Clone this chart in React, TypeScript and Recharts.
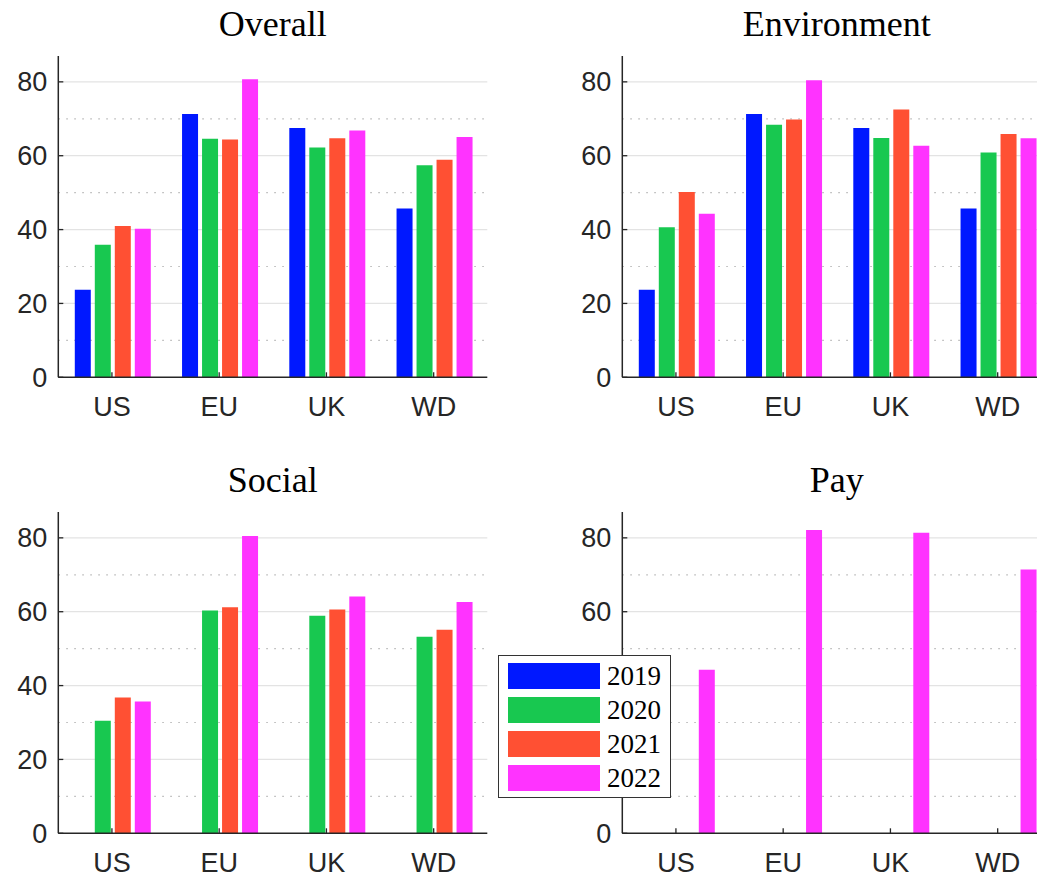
import React from "react";
import { BarChart, Bar, XAxis, YAxis, CartesianGrid } from "recharts";

const REGIONS = ["US", "EU", "UK", "WD"];
const YEARS = ["2019", "2020", "2021", "2022"];
const COLORS = ["#0018ff", "#18c850", "#ff5033", "#ff33ff"];

const Y_TICKS = [0, 20, 40, 60, 80];
const MAJOR_GRID = [20, 40, 60, 80];
const MINOR_GRID = [10, 30, 50, 70];

// values per year, in REGIONS order
const OVERALL_2019 = [23.7, 71.3, 67.5, 45.7];
const OVERALL_2020 = [35.9, 64.6, 62.2, 57.4];
const OVERALL_2021 = [41.0, 64.4, 64.7, 58.9];
const OVERALL_2022 = [40.2, 80.7, 66.8, 65.1];

const ENV_2019 = [23.7, 71.3, 67.5, 45.7];
const ENV_2020 = [40.6, 68.4, 64.8, 60.9];
const ENV_2021 = [50.2, 69.8, 72.5, 65.9];
const ENV_2022 = [44.3, 80.4, 62.7, 64.7];

const SOCIAL_2019 = [null, null, null, null];
const SOCIAL_2020 = [30.5, 60.3, 58.9, 53.2];
const SOCIAL_2021 = [36.8, 61.2, 60.6, 55.1];
const SOCIAL_2022 = [35.7, 80.5, 64.1, 62.6];

const PAY_2019 = [null, null, null, null];
const PAY_2020 = [null, null, null, null];
const PAY_2021 = [null, null, null, null];
const PAY_2022 = [44.3, 82.1, 81.4, 71.4];

type Series = (number | null)[];

const AXIS_COLOR = "#262626";
const SANS = '"Liberation Sans", Arial, Helvetica, sans-serif';
const SERIF = '"Liberation Serif", "Times New Roman", serif';

const CHART_W = 500;
const CHART_H = 440;
const PLOT_LEFT = 58.3;
const PLOT_RIGHT = 487.3;

function buildRows(series: Series[]) {
  return REGIONS.map((region, i) => {
    const row: Record<string, string | number | null> = { region };
    YEARS.forEach((y, k) => {
      row[y] = series[k][i];
    });
    return row;
  });
}

function Panel({ title, series, left, top }: { title: string; series: Series[]; left: number; top: number }) {
  const data = buildRows(series);
  const tickStyle = { fill: AXIS_COLOR, fontSize: 27, fontFamily: SANS };
  return (
    <div style={{ position: "absolute", left, top, width: CHART_W, height: CHART_H }}>
      <div
        style={{
          position: "absolute",
          left: PLOT_LEFT,
          width: PLOT_RIGHT - PLOT_LEFT,
          top: 5.8,
          textAlign: "center",
          fontFamily: SERIF,
          fontSize: 36,
          lineHeight: "36px",
          color: "#000",
        }}
      >
        {title}
      </div>
      <BarChart
        width={CHART_W}
        height={CHART_H}
        data={data}
        margin={{ top: 56, right: CHART_W - PLOT_RIGHT, bottom: 12.7, left: 0 }}
        barCategoryGap={16.5}
        barGap={4}
      >
        <CartesianGrid horizontalValues={MAJOR_GRID} vertical={false} stroke="#e3e3e3" strokeWidth={1.3} />
        <CartesianGrid horizontalValues={MINOR_GRID} vertical={false} stroke="#b5b5b5" strokeWidth={1.2} strokeDasharray="1.5 6.5" />
        <XAxis
          dataKey="region"
          height={50}
          tickSize={-5}
          tickMargin={25}
          tick={tickStyle}
          axisLine={{ stroke: AXIS_COLOR, strokeWidth: 1.5 }}
          tickLine={{ stroke: AXIS_COLOR, strokeWidth: 1.3 }}
        />
        <YAxis
          type="number"
          domain={[0, 87]}
          ticks={Y_TICKS}
          allowDataOverflow
          width={PLOT_LEFT}
          tickSize={-5}
          tickMargin={16}
          tick={tickStyle}
          axisLine={{ stroke: AXIS_COLOR, strokeWidth: 1.5 }}
          tickLine={{ stroke: AXIS_COLOR, strokeWidth: 1.3 }}
        />
        {YEARS.map((y, k) => (
          <Bar key={y} dataKey={y} fill={COLORS[k]} isAnimationActive={false} />
        ))}
      </BarChart>
    </div>
  );
}

function YearLegend() {
  return (
    <div
      style={{
        position: "absolute",
        left: 498,
        top: 655,
        width: 171,
        height: 141,
        border: "1.5px solid #333",
        background: "#fff",
      }}
    >
      {YEARS.map((y, k) => (
        <div key={y} style={{ position: "absolute", left: 9, top: 6.5 + k * 34, height: 26, display: "flex", alignItems: "center" }}>
          <div style={{ width: 92, height: 26, background: COLORS[k] }} />
          <span style={{ marginLeft: 7, fontFamily: SERIF, fontSize: 27, lineHeight: "26px", color: "#000" }}>{y}</span>
        </div>
      ))}
    </div>
  );
}

export default function App() {
  return (
    <div
      style={{
        position: "absolute",
        left: 0,
        top: 0,
        width: 1037,
        height: 878,
        overflow: "hidden",
        background: "#fff",
      }}
    >
      <Panel title="Overall" series={[OVERALL_2019, OVERALL_2020, OVERALL_2021, OVERALL_2022]} left={0} top={0} />
      <Panel title="Environment" series={[ENV_2019, ENV_2020, ENV_2021, ENV_2022]} left={564} top={0} />
      <Panel title="Social" series={[SOCIAL_2019, SOCIAL_2020, SOCIAL_2021, SOCIAL_2022]} left={0} top={456} />
      <Panel title="Pay" series={[PAY_2019, PAY_2020, PAY_2021, PAY_2022]} left={564} top={456} />
      <YearLegend />
    </div>
  );
}
